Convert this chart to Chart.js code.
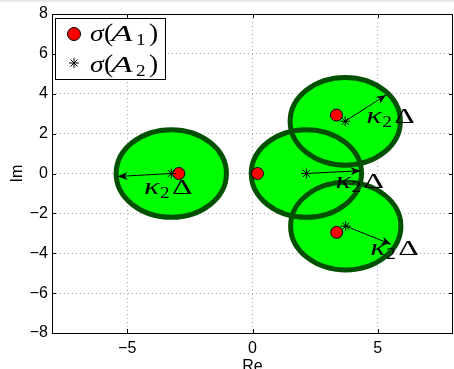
<!DOCTYPE html>
<html>
<head>
<meta charset="utf-8">
<script src="https://cdn.jsdelivr.net/npm/chart.js@4.4.0/dist/chart.umd.min.js"></script>
<style>
  html, body { margin: 0; padding: 0; background: #fff; overflow: hidden; }
  #wrap { width: 460px; height: 380px; }
</style>
</head>
<body>
<div id="wrap"><canvas id="eigChart" width="460" height="380"></canvas></div>
<script>
"use strict";

// eigenvalues
const sigmaA1Re = [-2.94, 0.2, 3.35, 3.36];
const sigmaA1Im = [0, 0, 2.93, -2.95];
const sigmaA2Re = [-3.24, 2.15, 3.7, 3.72];
const sigmaA2Im = [0, 0, 2.62, -2.64];

// radius kappa_2 * Delta of the disks round sigma(A2)
const kappaDelta = 2.2;

// arrow tips and label anchors (data units)
const arrowTipRe = [-5.38, 4.31, 5.33, 5.53];
const arrowTipIm = [-0.15, 0.14, 3.94, -3.55];
const labelRe = [-4.33, 3.31, 4.54, 4.7];
const labelIm = [-1.03, -0.73, 2.53, -4.09];

const xTicks = [-5, 0, 5];
const yTicks = [-8, -6, -4, -2, 0, 2, 4, 6, 8];

const tickFont = { family: "Liberation Sans", size: 16 };
const fmt = (v) => (v < 0 ? "\u2212" + Math.abs(v) : String(v));

// draws one glyph run, stretched sideways to look like the TeX font
function piece(ctx, text, font, x, y, sx) {
  ctx.save();
  ctx.translate(x, y);
  ctx.scale(sx, 1);
  ctx.font = font;
  ctx.fillText(text, 0, 0);
  ctx.restore();
}

// green disks: all fills first, then the outlines
const disksPlugin = {
  id: "disks",
  beforeDatasetsDraw(chart) {
    const { ctx, scales: { x, y } } = chart;
    const shapes = sigmaA2Re.map((re, i) => {
      const cx = x.getPixelForValue(re);
      const cy = y.getPixelForValue(sigmaA2Im[i]);
      return {
        cx,
        cy,
        rx: x.getPixelForValue(re + kappaDelta) - cx,
        ry: cy - y.getPixelForValue(sigmaA2Im[i] + kappaDelta),
      };
    });
    ctx.save();
    ctx.fillStyle = "#00ff00";
    shapes.forEach((s) => {
      ctx.beginPath();
      ctx.ellipse(s.cx, s.cy, s.rx, s.ry, 0, 0, Math.PI * 2);
      ctx.fill();
    });
    ctx.strokeStyle = "#005000";
    ctx.lineWidth = 5;
    shapes.forEach((s) => {
      ctx.beginPath();
      ctx.ellipse(s.cx, s.cy, s.rx, s.ry, 0, 0, Math.PI * 2);
      ctx.stroke();
    });
    ctx.restore();
  },
};

// arrows and kappa_2 Delta labels
const arrowsPlugin = {
  id: "arrows",
  afterDatasetsDraw(chart) {
    const { ctx, scales: { x, y } } = chart;
    ctx.save();
    ctx.strokeStyle = "#000";
    ctx.fillStyle = "#000";
    ctx.lineWidth = 1;
    sigmaA2Re.forEach((re, i) => {
      const x0 = x.getPixelForValue(re);
      const y0 = y.getPixelForValue(sigmaA2Im[i]);
      const x1 = x.getPixelForValue(arrowTipRe[i]);
      const y1 = y.getPixelForValue(arrowTipIm[i]);
      const a = Math.atan2(y1 - y0, x1 - x0);
      ctx.beginPath();
      ctx.moveTo(x0, y0);
      ctx.lineTo(x1, y1);
      ctx.stroke();
      // arrow head
      const len = 10, half = 4, notch = 7;
      const bx = x1 - len * Math.cos(a), by = y1 - len * Math.sin(a);
      const nx = x1 - notch * Math.cos(a), ny = y1 - notch * Math.sin(a);
      ctx.beginPath();
      ctx.moveTo(x1, y1);
      ctx.lineTo(bx + half * Math.sin(a), by - half * Math.cos(a));
      ctx.lineTo(nx, ny);
      ctx.lineTo(bx - half * Math.sin(a), by + half * Math.cos(a));
      ctx.closePath();
      ctx.fill();
    });

    ctx.textBaseline = "alphabetic";
    ctx.textAlign = "left";
    labelRe.forEach((re, i) => {
      const px = x.getPixelForValue(re);
      const py = y.getPixelForValue(labelIm[i]);
      piece(ctx, "\u03ba", "italic 24px 'Liberation Serif'", px, py, 1.35);
      piece(ctx, "2", "16px 'Liberation Serif'", px + 16, py + 4, 1.2);
      piece(ctx, "\u0394", "22px 'Liberation Serif'", px + 28, py, 1.45);
    });
    ctx.restore();
  },
};

// axes box, inward ticks, legend
const framePlugin = {
  id: "frame",
  afterDraw(chart) {
    const { ctx, chartArea: a, scales: { x, y } } = chart;
    ctx.save();
    ctx.fillStyle = "#ebe8eb";
    ctx.fillRect(0, 0, chart.width, 2);

    ctx.strokeStyle = "#000";
    ctx.lineWidth = 1;
    ctx.beginPath();
    ctx.moveTo(a.left + 0.5, a.top + 0.5);
    ctx.lineTo(a.left + 0.5, a.bottom + 0.5);
    ctx.moveTo(a.left, a.top + 0.5);
    ctx.lineTo(a.right, a.top + 0.5);
    ctx.moveTo(a.left, a.bottom + 0.5);
    ctx.lineTo(a.right, a.bottom + 0.5);
    ctx.moveTo(a.right - 0.5, a.top);
    ctx.lineTo(a.right - 0.5, a.bottom);
    xTicks.forEach((v) => {
      const px = Math.round(x.getPixelForValue(v)) + 0.5;
      ctx.moveTo(px, a.bottom);
      ctx.lineTo(px, a.bottom - 4);
      ctx.moveTo(px, a.top);
      ctx.lineTo(px, a.top + 4);
    });
    yTicks.forEach((v) => {
      const py = Math.round(y.getPixelForValue(v)) + 0.5;
      ctx.moveTo(a.left, py);
      ctx.lineTo(a.left + 4, py);
      ctx.moveTo(a.right, py);
      ctx.lineTo(a.right - 4, py);
    });
    ctx.stroke();

    // legend
    const lx = 55.5, ly = 18.5, lw = 110, lh = 61;
    ctx.fillStyle = "#fff";
    ctx.fillRect(lx, ly, lw, lh);
    ctx.strokeRect(lx, ly, lw, lh);

    ctx.fillStyle = "#ff0000";
    ctx.beginPath();
    ctx.arc(74, 34, 6.5, 0, Math.PI * 2);
    ctx.fill();
    ctx.stroke();

    const sx = 74, sy = 63, r = 5;
    ctx.beginPath();
    ctx.moveTo(sx - r, sy); ctx.lineTo(sx + r, sy);
    ctx.moveTo(sx, sy - r); ctx.lineTo(sx, sy + r);
    const d = r * Math.SQRT1_2;
    ctx.moveTo(sx - d, sy - d); ctx.lineTo(sx + d, sy + d);
    ctx.moveTo(sx - d, sy + d); ctx.lineTo(sx + d, sy - d);
    ctx.stroke();

    ctx.fillStyle = "#000";
    ctx.textBaseline = "alphabetic";
    ["1", "2"].forEach((sub, i) => {
      const by = i === 0 ? 41 : 72;
      const px = 90;
      piece(ctx, "\u03c3", "italic 24px 'Liberation Serif'", px, by, 1.15);
      piece(ctx, "(", "25px 'Liberation Serif'", px + 14, by, 1.1);
      piece(ctx, "A", "italic 23px 'Liberation Serif'", px + 21, by, 1.55);
      piece(ctx, sub, "16px 'Liberation Serif'", px + 46, by + 4, 1.2);
      piece(ctx, ")", "25px 'Liberation Serif'", px + 59, by, 1.1);
    });
    ctx.restore();
  },
};

const ctx = document.getElementById("eigChart").getContext("2d");
new Chart(ctx, {
  type: "scatter",
  data: {
    datasets: [
      {
        label: "\u03c3(A1)",
        data: sigmaA1Re.map((re, i) => ({ x: re, y: sigmaA1Im[i] })),
        pointStyle: "circle",
        pointRadius: 6,
        backgroundColor: "#ff0000",
        borderColor: "#000",
        borderWidth: 1,
        order: 2,
      },
      {
        label: "\u03c3(A2)",
        data: sigmaA2Re.map((re, i) => ({ x: re, y: sigmaA2Im[i] })),
        pointStyle: "star",
        pointRadius: 5,
        borderColor: "#000",
        borderWidth: 1,
        order: 1,
      },
    ],
  },
  options: {
    responsive: false,
    devicePixelRatio: 1,
    animation: false,
    layout: { padding: { top: 14, right: 4, left: 0, bottom: 0 } },
    plugins: { legend: { display: false }, tooltip: { enabled: false } },
    scales: {
      x: {
        type: "linear",
        min: -8,
        max: 8,
        afterBuildTicks: (s) => { s.ticks = xTicks.map((v) => ({ value: v })); },
        afterFit: (s) => { s.height = 47; },
        ticks: { font: tickFont, color: "#000", padding: 6, callback: fmt },
        grid: { color: "#aaaaaa", drawTicks: false, lineWidth: 1 },
        border: { display: false, dash: [1, 3] },
        title: { display: true, text: "Re", font: tickFont, color: "#000", padding: { top: 0, bottom: 4 } },
      },
      y: {
        type: "linear",
        min: -8,
        max: 8,
        afterBuildTicks: (s) => { s.ticks = yTicks.map((v) => ({ value: v })); },
        afterFit: (s) => { s.width = 52; },
        ticks: { font: tickFont, color: "#000", padding: 4, callback: fmt },
        grid: {
          color: (c) => (Math.abs(c.tick.value) === 8 ? "rgba(0,0,0,0)" : "#aaaaaa"),
          drawTicks: false,
          lineWidth: 1,
        },
        border: { display: false, dash: [1, 3] },
        title: { display: true, text: "Im", font: tickFont, color: "#000", padding: { top: 8, bottom: 0 } },
      },
    },
  },
  plugins: [disksPlugin, arrowsPlugin, framePlugin],
});
</script>
</body>
</html>
